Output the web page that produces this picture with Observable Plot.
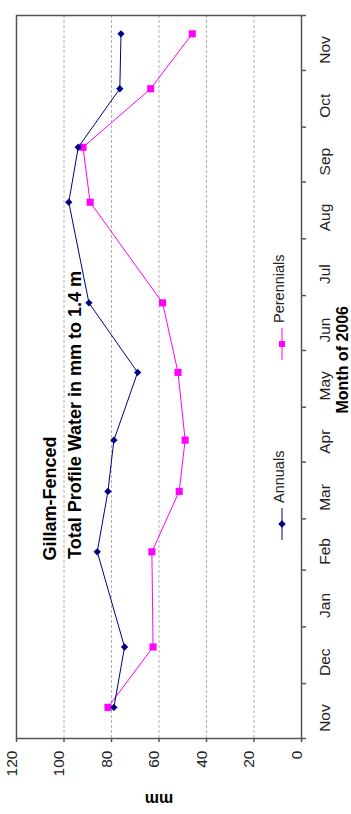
<!DOCTYPE html>
<html>
<head>
<meta charset="utf-8">
<script src="https://cdn.jsdelivr.net/npm/d3@7"></script>
<script src="https://cdn.jsdelivr.net/npm/@observablehq/plot@0.6"></script>
<style>
  html, body { margin: 0; padding: 0; background: #fff; overflow: hidden; }
  #chart svg { display: block; }
</style>
</head>
<body>
<div id="chart"></div>
<script>
// ---------- data ----------
const sampleDates = ["2005-11-18", "2005-12-21", "2006-02-11", "2006-03-16", "2006-04-13",
                     "2006-05-20", "2006-06-27", "2006-08-21", "2006-09-20", "2006-10-22", "2006-11-21"];
const annuals    = [79, 74.5, 86, 81.5, 79, 69, 89.5, 98, 94, 76.5, 76];
const perennials = [81.5, 62.5, 63, 51.5, 49, 52, 58.5, 89, 92, 63.5, 46];
const seriesNames = ["Annuals", "Perennials"];

const monthStarts = ["2005-11-01", "2005-12-01", "2006-01-01", "2006-02-01", "2006-03-01", "2006-04-01",
                     "2006-05-01", "2006-06-01", "2006-07-01", "2006-08-01", "2006-09-01", "2006-10-01",
                     "2006-11-01", "2006-12-01"];
const monthLabels = ["Nov", "Dec", "Jan", "Feb", "Mar", "Apr", "May", "Jun", "Jul", "Aug", "Sep", "Oct", "Nov"];
const mmTicks = [0, 20, 40, 60, 80, 100, 120];
const gridValues = [20, 40, 60, 80, 100];

const titleLines = ["Gillam-Fenced", "Total Profile Water in mm to 1.4 m"];
const xAxisTitle = "Month of 2006";
const yAxisTitle = "mm";

// ---------- layout / style ----------
const W = 351, H = 814;
const mL = 16, mR = 50, mT = 15, mB = 76;
const FONT = "'Liberation Sans', Arial, Helvetica, sans-serif";
const NAVY = "#000080", MAGENTA = "#ff00ff", AXIS = "#555555", GRID = "#b0b0b0";

const parse = d3.utcParse("%Y-%m-%d");
const bounds = monthStarts.map(parse);
const months = monthLabels.map((label, i) => ({
  label,
  mid: new Date((+bounds[i] + +bounds[i + 1]) / 2)
}));
const annualsData = sampleDates.map((d, i) => ({date: parse(d), value: annuals[i]}));
const perennialsData = sampleDates.map((d, i) => ({date: parse(d), value: perennials[i]}));
const yStart = bounds[0];

// legend drawn as a custom mark (positions relative to the plot frame)
const legendMark = () => {
  const g = d3.create("svg:g").attr("font-family", FONT).attr("font-size", 14.5).attr("fill", "#222");
  const lx = W - mR - 19;
  const items = [
    {name: seriesNames[0], color: NAVY, symbol: d3.symbolDiamond2, size: 36, cy: H - mB - 214},
    {name: seriesNames[1], color: MAGENTA, symbol: d3.symbolSquare, size: 36, cy: H - mB - 394}
  ];
  for (const it of items) {
    g.append("line").attr("x1", lx).attr("x2", lx).attr("y1", it.cy - 16).attr("y2", it.cy + 16)
      .attr("stroke", it.color).attr("stroke-width", 1);
    g.append("path").attr("d", d3.symbol(it.symbol, it.size)()).attr("transform", `translate(${lx},${it.cy})`)
      .attr("fill", it.color);
    g.append("text").attr("transform", `translate(${lx - 2.5},${it.cy - 21}) rotate(-90)`)
      .attr("text-anchor", "start").attr("dy", "0.32em").text(it.name);
  }
  return g.node();
};

const chart = Plot.plot({
  width: W,
  height: H,
  marginLeft: mL,
  marginRight: mR,
  marginTop: mT,
  marginBottom: mB,
  style: {fontFamily: FONT, background: "#fff", color: "#222"},
  x: {domain: [120, 0], axis: null},
  y: {type: "utc", domain: [bounds[0], bounds[bounds.length - 1]], axis: null},
  marks: [
    Plot.ruleX(gridValues, {x: d => d, stroke: GRID, strokeDasharray: "3,2", strokeWidth: 1}),
    Plot.frame({stroke: AXIS, strokeWidth: 1.5}),
    // mm axis ticks (bottom)
    Plot.ruleX(mmTicks, {x: d => d, y1: yStart, y2: yStart, insetBottom: -4, stroke: AXIS, strokeWidth: 1.5}),
    // month axis ticks (right)
    Plot.ruleY(bounds, {y: d => d, x1: 0, x2: 0, insetRight: -5, stroke: AXIS, strokeWidth: 1.5}),
    // mm tick labels
    Plot.text(mmTicks, {x: d => d, text: d => String(d), frameAnchor: "bottom", dy: 12,
      rotate: -90, textAnchor: "end", fontSize: 15.5, fill: "#222"}),
    // month labels
    Plot.text(months, {y: "mid", text: "label", frameAnchor: "right", dx: 24, dy: 7,
      rotate: -90, textAnchor: "middle", fontSize: 15.5, fill: "#222"}),
    // axis titles
    Plot.text([xAxisTitle], {text: d => d, frameAnchor: "right", dx: 41, dy: -71,
      rotate: -90, fontWeight: "bold", fontSize: 16, fill: "#000"}),
    Plot.text([yAxisTitle], {text: d => d, frameAnchor: "bottom", dy: 55,
      rotate: 180, fontWeight: "bold", fontSize: 16, fill: "#000"}),
    // chart title
    Plot.text([titleLines[0]], {text: d => d, frameAnchor: "left", dx: 34, dy: 183.5,
      rotate: -90, fontWeight: "bold", fontSize: 18, fill: "#000"}),
    Plot.text([titleLines[1]], {text: d => d, frameAnchor: "left", dx: 58.5, dy: 182,
      rotate: -90, fontWeight: "bold", fontSize: 18, fill: "#000"}),
    // series
    Plot.line(perennialsData, {x: "value", y: "date", stroke: MAGENTA, strokeWidth: 1}),
    Plot.dot(perennialsData, {x: "value", y: "date", symbol: "square", r: 4, fill: MAGENTA, stroke: "none"}),
    Plot.line(annualsData, {x: "value", y: "date", stroke: NAVY, strokeWidth: 1}),
    Plot.dot(annualsData, {x: "value", y: "date", symbol: "diamond2", r: 3.3, fill: NAVY, stroke: "none"}),
    legendMark
  ]
});

document.getElementById("chart").appendChild(chart);
</script>
</body>
</html>
